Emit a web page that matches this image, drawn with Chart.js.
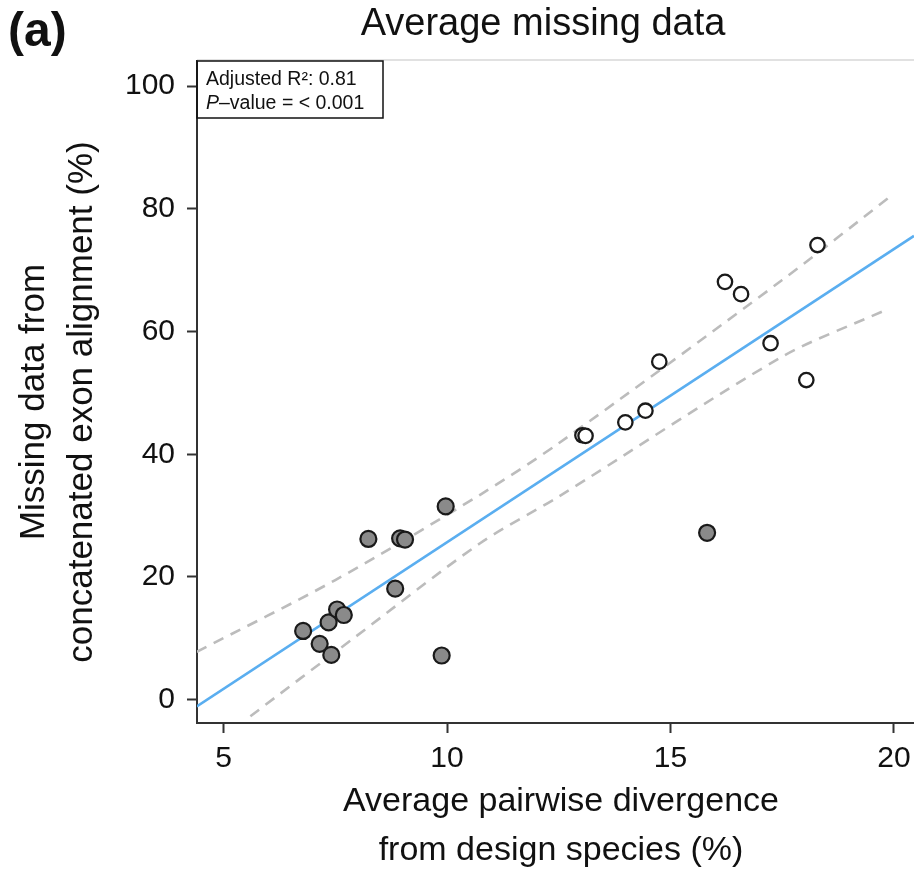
<!DOCTYPE html>
<html>
<head>
<meta charset="utf-8">
<script src="https://cdn.jsdelivr.net/npm/chart.js@4.4.1/dist/chart.umd.min.js"></script>
<style>
  html, body { margin: 0; padding: 0; background: #fff; }
  #wrap { width: 914px; height: 873px; }
</style>
</head>
<body>
<div id="wrap"><canvas id="chart" width="914" height="873"></canvas></div>
<script>
'use strict';

// filled grey points
const grayX = [6.78, 7.15, 7.35, 7.41, 7.54, 7.69, 8.24, 8.84, 8.95, 9.06, 9.88, 9.97, 15.82];
const grayY = [11.2, 9.1, 12.6, 7.3, 14.7, 13.8, 26.2, 18.1, 26.3, 26.1, 7.2, 31.5, 27.2];

// open points
const openX = [13.03, 13.1, 13.99, 14.44, 14.75, 16.22, 16.58, 17.24, 18.04, 18.29];
const openY = [43.1, 43.0, 45.2, 47.1, 55.1, 68.1, 66.1, 58.1, 52.1, 74.1];

// regression line and its band
const fitX = [4.4, 20.45];
const fitY = [-1.1, 75.6];
const upperX = [4.4, 7.5, 10.74, 12.5, 17.5, 19.9];
const upperY = [7.8, 19.5, 33.4, 41.8, 68.4, 81.9];
const lowerX = [5.6, 7.87, 10.74, 12.5, 17.5, 19.78];
const lowerY = [-2.7, 9.8, 25.5, 33.1, 55.9, 63.4];

// axis ticks
const xTicks = [5, 10, 15, 20];
const yTicks = [0, 20, 40, 60, 80, 100];

const FONT = "'Liberation Sans', Arial, Helvetica, sans-serif";
const INK = '#111';
const AXIS = '#333';

const toPts = (xs, ys) => xs.map((x, i) => ({ x: x, y: ys[i] }));

// Titles, stats box and axis titles
const annotations = {
  id: 'annotations',
  beforeDatasetsDraw(chart) {
    const ctx = chart.ctx;
    const { left, right, top } = chart.chartArea;
    ctx.save();
    ctx.strokeStyle = '#c4c4c4';
    ctx.lineWidth = 1.2;
    ctx.beginPath();
    ctx.moveTo(left, top - 1);
    ctx.lineTo(right, top - 1);
    ctx.stroke();
    ctx.restore();
  },
  afterDraw(chart) {
    const ctx = chart.ctx;
    const { left, top } = chart.chartArea;
    ctx.save();
    ctx.fillStyle = INK;

    ctx.font = 'bold 48px ' + FONT;
    ctx.textAlign = 'left';
    ctx.textBaseline = 'alphabetic';
    ctx.fillText('(a)', 8, 46);

    ctx.font = '38px ' + FONT;
    ctx.textAlign = 'center';
    ctx.fillText('Average missing data', 543, 35);

    // x axis title
    ctx.font = '34px ' + FONT;
    ctx.fillText('Average pairwise divergence', 561, 811);
    ctx.fillText('from design species (%)', 561, 860);

    // y axis title
    ctx.save();
    ctx.font = '35px ' + FONT;
    ctx.translate(0, 402);
    ctx.rotate(-Math.PI / 2);
    ctx.fillText('Missing data from', 0, 44);
    ctx.fillText('concatenated exon alignment (%)', 0, 92);
    ctx.restore();

    // stats box
    ctx.strokeStyle = '#111';
    ctx.lineWidth = 1.5;
    ctx.strokeRect(left, top, 186, 57);
    ctx.textAlign = 'left';
    ctx.font = '19.5px ' + FONT;
    ctx.fillText('Adjusted R\u00B2: 0.81', left + 9, top + 24);
    ctx.font = 'italic 19.5px ' + FONT;
    ctx.fillText('P', left + 9, top + 48);
    const pw = ctx.measureText('P').width;
    ctx.font = '19.5px ' + FONT;
    ctx.fillText('\u2013value = < 0.001', left + 9 + pw, top + 48);
    ctx.restore();
  }
};

const ctx = document.getElementById('chart').getContext('2d');
new Chart(ctx, {
  type: 'scatter',
  data: {
    datasets: [
      {
        label: 'filled',
        data: toPts(grayX, grayY),
        pointRadius: 8,
        pointBackgroundColor: '#8a8a8a',
        pointBorderColor: '#1a1a1a',
        pointBorderWidth: 2.2,
        order: 1
      },
      {
        label: 'open',
        data: toPts(openX, openY),
        pointRadius: 7.2,
        pointBackgroundColor: '#ffffff',
        pointBorderColor: '#1a1a1a',
        pointBorderWidth: 2.3,
        order: 2
      },
      {
        type: 'line',
        label: 'fit',
        data: toPts(fitX, fitY),
        borderColor: '#5aaef0',
        borderWidth: 2.6,
        pointRadius: 0,
        fill: false,
        order: 3
      },
      {
        type: 'line',
        label: 'upper',
        data: toPts(upperX, upperY),
        borderColor: '#bcbcbc',
        borderWidth: 2.6,
        borderDash: [11, 8],
        pointRadius: 0,
        tension: 0.3,
        fill: false,
        order: 4
      },
      {
        type: 'line',
        label: 'lower',
        data: toPts(lowerX, lowerY),
        borderColor: '#bcbcbc',
        borderWidth: 2.6,
        borderDash: [11, 8],
        pointRadius: 0,
        tension: 0.3,
        fill: false,
        order: 5
      }
    ]
  },
  options: {
    responsive: false,
    animation: false,
    devicePixelRatio: 1,
    layout: { autoPadding: false, padding: { top: 61, right: 0, bottom: 0, left: 0 } },
    plugins: { legend: { display: false }, tooltip: { enabled: false } },
    scales: {
      x: {
        type: 'linear',
        min: 4.405,
        max: 20.45,
        afterBuildTicks: s => { s.ticks = xTicks.map(v => ({ value: v })); },
        afterFit: s => { s.height = 150; s.paddingLeft = 0; s.paddingRight = 0; },
        ticks: { font: { family: FONT, size: 30 }, color: INK, padding: 8, maxRotation: 0 },
        grid: { drawOnChartArea: false, drawTicks: true, tickLength: 10, tickWidth: 2, tickColor: AXIS },
        border: { display: true, color: AXIS, width: 2 }
      },
      y: {
        type: 'linear',
        min: -3.8,
        max: 104.1,
        afterBuildTicks: s => { s.ticks = yTicks.map(v => ({ value: v })); },
        afterFit: s => { s.width = 197; s.paddingTop = 0; s.paddingBottom = 0; },
        ticks: { font: { family: FONT, size: 30 }, color: INK, padding: 12 },
        grid: { drawOnChartArea: false, drawTicks: true, tickLength: 10, tickWidth: 2, tickColor: AXIS },
        border: { display: true, color: AXIS, width: 2 }
      }
    }
  },
  plugins: [annotations]
});
</script>
</body>
</html>
